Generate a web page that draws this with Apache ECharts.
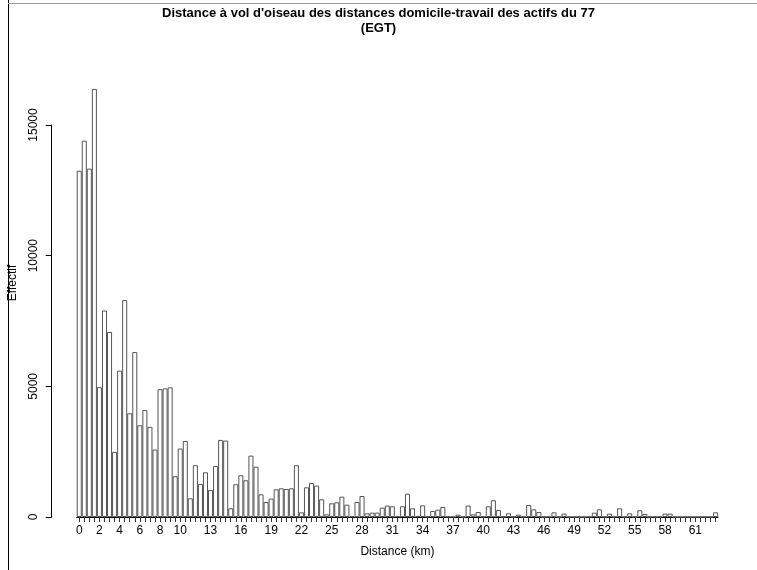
<!DOCTYPE html>
<html>
<head>
<meta charset="utf-8">
<script src="https://cdn.jsdelivr.net/npm/echarts@6/dist/echarts.min.js"></script>
<style>
html,body{margin:0;padding:0;background:#fff;}
#chart{width:757px;height:570px;}
</style>
</head>
<body>
<div id="chart"></div>
<script>
// Bin start (km), 0.5 km bins
const binStarts = [0,0.5,1,1.5,2,2.5,3,3.5,4,4.5,5,5.5,6,6.5,7,7.5,8,8.5,9,9.5,
10,10.5,11,11.5,12,12.5,13,13.5,14,14.5,15,15.5,16,16.5,17,17.5,18,18.5,19,19.5,
20,20.5,21,21.5,22,22.5,23,23.5,24,24.5,25,25.5,26,26.5,27,27.5,28,28.5,29,29.5,
30,30.5,31,31.5,32,32.5,33,33.5,34,34.5,35,35.5,36,36.5,37,37.5,38,38.5,39,39.5,
40,40.5,41,41.5,42,42.5,43,43.5,44,44.5,45,45.5,46,46.5,47,47.5,48,48.5,49,49.5,
50,50.5,51,51.5,52,52.5,53,53.5,54,54.5,55,55.5,56,56.5,57,57.5,58,58.5,59,59.5,
60,60.5,61,61.5,62,62.5,63];

// Effectif per bin
const effectif = [13250,14400,13330,16380,4970,7900,7080,2490,5600,8300,
3970,6310,3510,4090,3450,2580,4890,4920,4960,1560,
2620,2910,715,1980,1264,1711,1034,1953,2949,2923,
332,1252,1596,1404,2349,1927,868,575,702,1060,
1098,1072,1098,1980,179,1136,1302,1200,677,102,
524,562,779,472,40,575,804,141,166,166,
357,434,409,40,409,893,332,40,447,20,
230,281,383,20,10,89,10,440,102,191,
20,409,639,268,15,141,15,89,15,460,
293,191,10,10,179,10,128,5,5,5,
5,10,166,293,10,128,10,332,10,141,
10,256,115,10,10,10,128,128,5,5,
5,5,5,5,5,5,179];

const xTickLabels = [0,2,4,6,8,10,13,16,19,22,25,28,31,34,37,40,43,46,49,52,55,58,61];
const yTicks = [0,5000,10000,15000];

const titleLine1 = "Distance à vol d'oiseau des distances domicile-travail des actifs du 77";
const titleLine2 = "(EGT)";

const FONT = "'Liberation Sans', Arial, Helvetica, sans-serif";
const chart = echarts.init(document.getElementById('chart'), null, {renderer:'canvas'});

const option = {
  backgroundColor: '#fff',
  animation: false,
  title: {
    text: titleLine1 + '\n' + titleLine2,
    left: 'center',
    top: 1,
    padding: [5, 12, 5, 5],
    textStyle: {fontFamily: FONT, fontSize: 13, fontWeight: 'bold', color: '#000', lineHeight: 15}
  },
  grid: {left: 76.7, right: 38.9, top: 125, bottom: 53, containLabel: false},
  xAxis: {
    type: 'category',
    data: binStarts,
    boundaryGap: true,
    name: 'Distance (km)',
    nameLocation: 'middle',
    nameGap: 29,
    nameTextStyle: {fontFamily: FONT, fontSize: 12, color: '#000'},
    axisLine: {show: true, lineStyle: {color: '#000', width: 1}},
    axisTick: {show: true, alignWithLabel: true, interval: 0, length: 5, lineStyle: {color: '#333'}},
    axisLabel: {
      interval: function (idx, val) { return xTickLabels.indexOf(Number(val)) >= 0; },
      fontFamily: FONT, fontSize: 12, color: '#000', margin: 8
    },
    splitLine: {show: false}
  },
  yAxis: {
    type: 'value',
    min: yTicks[0],
    max: yTicks[yTicks.length - 1],
    interval: yTicks[1] - yTicks[0],
    offset: 25,
    axisLine: {show: true, lineStyle: {color: '#000', width: 1}},
    axisTick: {show: true, length: 6, lineStyle: {color: '#000'}},
    axisLabel: {rotate: 90, fontFamily: FONT, fontSize: 12, color: '#000', margin: 12,
      formatter: function (v) { return String(v); }},
    splitLine: {show: false}
  },
  series: [{
    type: 'bar',
    data: effectif,
    barWidth: '100%',
    barCategoryGap: '0%',
    clip: false,
    itemStyle: {color: 'rgba(255,255,255,0)', borderColor: '#555', borderWidth: 1},
    emphasis: {disabled: true}
  }],
  graphic: [
    {type: 'text', rotation: Math.PI / 2,
     style: {text: 'Effectif', fontFamily: FONT, fontSize: 12, fill: '#000', textAlign: 'center', textVerticalAlign: 'middle'},
     x: 13, y: 283},
    {type: 'line', shape: {x1: 8.5, y1: 0, x2: 8.5, y2: 570}, style: {stroke: '#000', lineWidth: 1}},
    {type: 'line', shape: {x1: 8, y1: 3.5, x2: 757, y2: 3.5}, style: {stroke: '#999', lineWidth: 1}}
  ]
};
chart.setOption(option);
</script>
</body>
</html>
